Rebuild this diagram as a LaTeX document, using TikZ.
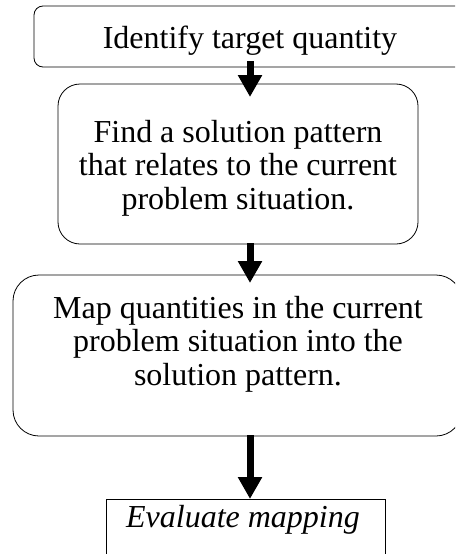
\documentclass[tikz,border=0pt]{standalone}
\usepackage{fontspec}
\setmainfont{Liberation Serif}
\usetikzlibrary{arrows.meta}
\begin{document}
\begin{tikzpicture}[x=1pt,y=-1pt,
  box/.style={draw=black, line width=0.8pt, rectangle, inner sep=0pt},
  txt/.style={font=\fontsize{32}{33.5}\selectfont, align=center, anchor=base, inner sep=0pt},
  arr/.style={line width=7pt, -{Triangle[width=23pt,length=22pt]}}]
\useasboundingbox (0,0) rectangle (455,554);
\clip (0,0) rectangle (455,554);
% boxes
\node[box, rounded corners=9pt, minimum width=436pt, minimum height=61pt] (b1) at (252,36.5) {};
\node[box, rounded corners=22pt, minimum width=360pt, minimum height=160pt] (b2) at (238,164) {};
\node[box, rounded corners=26pt, minimum width=449pt, minimum height=161pt] (b3) at (237.5,355.5) {};
\node[box, minimum width=279pt, minimum height=80pt] (b4) at (245.5,539) {};
% texts
\node[txt] (t1) at (250,48) {Identify target quantity};
\node[txt] (t2) at (238,209) {Find a solution pattern\\that relates to the current\\problem situation.};
\node[txt] (t3) at (238,385) {Map quantities in the current\\problem situation into the\\solution pattern.};
\node[txt, font=\fontsize{32}{33.5}\selectfont\itshape] (t4) at (243,527) {Evaluate mapping};
% connectors
\coordinate (s1) at (250,61);
\coordinate (e1) at (250,97);
\coordinate (s2) at (250,243);
\coordinate (e2) at (250,283);
\coordinate (s3) at (250,435);
\coordinate (e3) at (250,499);
\draw[arr] (s1) -- (e1);
\draw[arr] (s2) -- (e2);
\draw[arr] (s3) -- (e3);
\end{tikzpicture}
\end{document}
